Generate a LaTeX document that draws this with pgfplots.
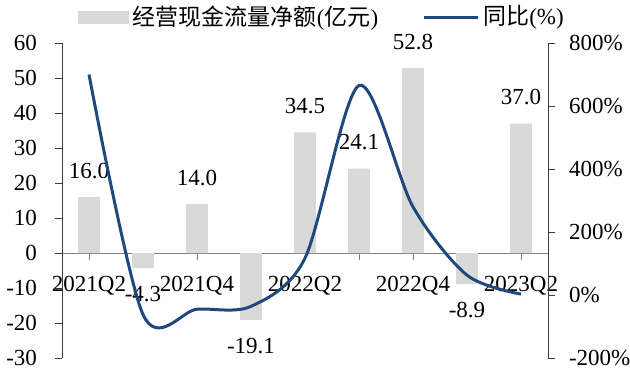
\documentclass[border=0pt]{standalone}
\usepackage{pgfplots}
\pgfplotsset{compat=1.18}
\usepackage{fontspec}
\setmainfont{Liberation Serif}
\newfontfamily\cjk{Noto Sans CJK SC}
\definecolor{barcol}{RGB}{217,217,217}
\definecolor{linecol}{RGB}{31,73,125}
\definecolor{axcol}{RGB}{60,60,60}
\pgfplotsset{/pgf/number format/assume math mode=true}
\begin{document}
\fontsize{11.5}{13}\selectfont
\begin{tikzpicture}
\useasboundingbox (-31pt,-6pt) rectangle (284pt,179pt);
\begin{axis}[
  at={(0,0)}, anchor=south west,
  width=243pt, height=157.5pt, scale only axis,
  xmin=-0.5, xmax=8.5, ymin=-30, ymax=60,
  ytick={-30,-20,...,60},
  xtick={0,...,8},
  xticklabels={2021Q2,,2021Q4,,2022Q2,,2022Q4,,2023Q2},
  axis y line*=left, axis x line*=middle,
  tick align=outside, major tick length=3.5pt,
  y axis line style={draw=axcol}, ytick style={draw=axcol},
  x axis line style={draw=gray}, xtick style={draw=gray},
  xticklabel style={yshift=-4pt},
  yticklabel style={xshift=-5pt},
  ybar, bar width=10.8pt,
]
\addplot[fill=barcol, draw=none,
  nodes near coords={\pgfmathprintnumber[fixed,fixed zerofill,precision=1,assume math mode=true]{\pgfplotspointmeta}},
  nodes near coords style={inner ysep=9pt, black}]
  coordinates {(0,16.0) (1,-4.3) (2,14.0) (3,-19.1) (4,34.5) (5,24.1) (6,52.8) (7,-8.9) (8,37.0)};
\end{axis}
\begin{axis}[
  at={(0,0)}, anchor=south west,
  width=243pt, height=157.5pt, scale only axis,
  xmin=-0.5, xmax=8.5, ymin=-200, ymax=800,
  ytick={-200,0,...,800},
  yticklabel={\pgfmathprintnumber{\tick}\%},
  axis y line*=right, axis x line=none,
  tick align=outside, major tick length=3.5pt,
  y axis line style={draw=axcol}, ytick style={draw=axcol},
  yticklabel style={xshift=3pt},
  legend style={at={(0.537,1.0825)}, anchor=center, draw=none, fill=none,
    legend columns=2, inner sep=0pt,
    nodes={inner sep=2pt},
    /tikz/every even column/.append style={column sep=20pt}},
]
\addlegendimage{legend image code/.code={\fill[barcol] (0pt,-3pt) rectangle (25pt,3pt);}}
\addlegendentry{{\cjk 经营现金流量净额}({\cjk 亿元})}
\addplot[linecol, line width=1.5pt, smooth, no markers,
  legend image code/.code={\draw[linecol, line width=1.5pt] (0pt,0pt) -- (27pt,0pt);}]
  coordinates {(0,700) (1,-62) (2,-45) (3,-36) (4,117) (5,665) (6,280) (7,63) (8,3)};
\addlegendentry{{\cjk 同比}(\%)}
\end{axis}
\end{tikzpicture}
\end{document}
